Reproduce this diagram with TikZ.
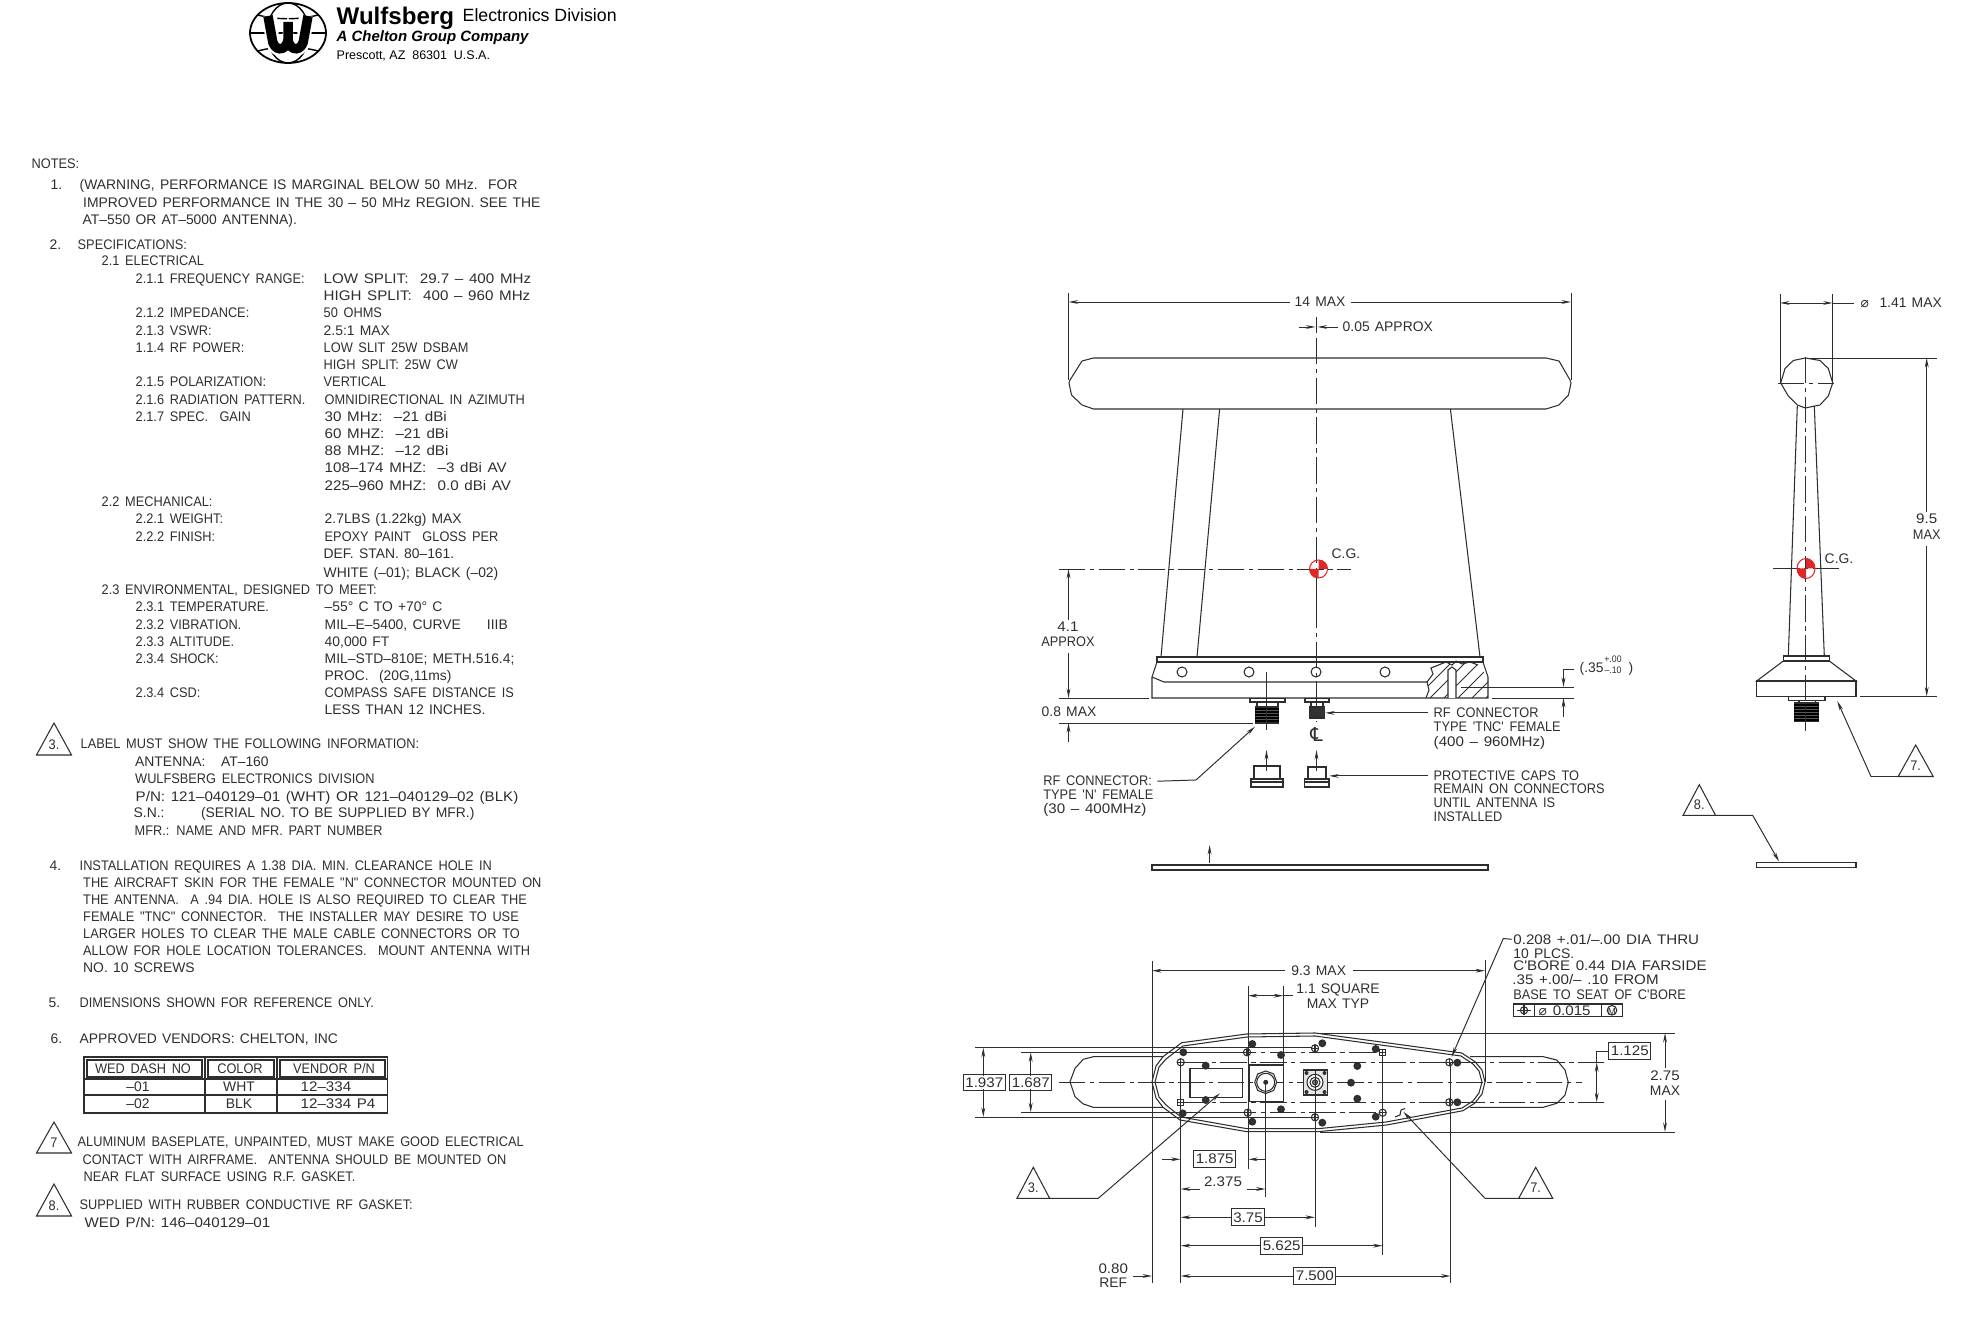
\documentclass[tikz,border=0pt]{standalone}
\usepackage{fontspec}
\usepackage{tikz}
\usetikzlibrary{arrows.meta}
\setmainfont{Liberation Sans}
\newfontfamily\cadfont[WordSpace=1.6,FakeStretch=0.92]{Liberation Sans}
\newfontfamily\cadfull[WordSpace=1.35]{Liberation Sans}
\newfontfamily\cadwide[WordSpace=1.35,FakeStretch=1.09]{Liberation Sans}
\newfontfamily\symfont{DejaVu Sans}
\definecolor{inkline}{gray}{0.18}
\definecolor{cgred}{RGB}{222,40,40}
\tikzset{
	note/.style={anchor=base west, inner sep=0pt, yshift=-1.42pt, text=inkline, font=\cadfont\fontsize{3.95}{4.9}\selectfont},
	fullnote/.style={note, font=\cadfull\fontsize{3.95}{4.9}\selectfont},
	widenote/.style={note, font=\cadwide\fontsize{3.95}{4.9}\selectfont},
	midnote/.style={note, anchor=base},
	midfull/.style={fullnote, anchor=base},
	midwide/.style={widenote, anchor=base},
	part/.style={draw=inkline, line width=0.3pt},
	dimline/.style={draw=inkline, line width=0.28pt, -{Stealth[length=0.95mm,width=0.38mm]}},
	bothdim/.style={draw=inkline, line width=0.28pt, {Stealth[length=0.95mm,width=0.38mm]}-{Stealth[length=0.95mm,width=0.38mm]}},
	extline/.style={draw=inkline, line width=0.28pt},
	cen/.style={draw=inkline, line width=0.25pt, dash pattern=on 7.5pt off 1.3pt on 1.2pt off 1.3pt},
	valbox/.style={widenote, anchor=center, yshift=1.42pt, draw=inkline, line width=0.3pt, inner xsep=0.6pt, inner ysep=1pt}
}
\newcommand{\notetri}[6]{
	\draw[part] ({#2-#4},{#3+#5}) coordinate (#1l) -- (#2,#3) -- ({#2+#4},{#3+#5}) coordinate (#1r) -- cycle;
	\node[midnote] (#1) at ({#2},{#3+0.66*#5}) {#6};
}
\newcommand{\cgmark}[4]{
	\draw[cgred, line width=0.3pt] (#1,#2) ellipse [x radius=#3, y radius=#4];
	\fill[cgred] (#1,#2) -- ({#1+#3},#2) arc [start angle=0, end angle=-90, x radius=#3, y radius=#4] -- cycle;
	\fill[cgred] (#1,#2) -- ({#1-#3},#2) arc [start angle=180, end angle=90, x radius=#3, y radius=#4] -- cycle;
}
\begin{document}
\begin{tikzpicture}[x=0.01cm, y=-0.01cm]
	\useasboundingbox (0,0) rectangle (1975,1319);

	% logo
	\draw[line width=0.5pt] (288,33) ellipse [x radius=38, y radius=30];
	\draw[line width=0.4pt] (288,33) ellipse [x radius=21, y radius=30];
	\draw[line width=0.4pt] (250,33) -- (326,33);
	\draw[line width=0.4pt] (258,15) .. controls (275,20) and (300,20) .. (318,15);
	\draw[line width=0.4pt] (258,51) .. controls (275,46) and (300,46) .. (318,51);
	\draw[white, line width=4pt] (270,16) -- (272,38) .. controls (273,52) and (286,52) .. (288,40) .. controls (290,52) and (303,52) .. (304,38) -- (306,16);
	\draw[line width=2.7pt] (268,16) -- (272,38) .. controls (273,52) and (286,52) .. (288,40) -- (288,22);
	\draw[line width=2.7pt] (308,16) -- (304,38) .. controls (303,52) and (290,52) .. (288,40);
	\node[anchor=base west, inner sep=0pt, font=\bfseries\fontsize{6.85}{8}\selectfont] (brand) at (336,24.5) {Wulfsberg};
	\node[anchor=base west, inner sep=0pt, font=\fontsize{5.05}{6}\selectfont] (division) at (462,22) {Electronics Division};
	\node[anchor=base west, inner sep=0pt, font=\bfseries\itshape\fontsize{4.25}{5}\selectfont] (group) at (336,42) {A Chelton Group Company};
	\node[anchor=base west, inner sep=0pt, font=\fontsize{3.55}{5}\selectfont] (town) at (336,60) {Prescott, AZ\ \ 86301\ \ U.S.A.};

	% notes
	\node[note] (nhead) at (31,164) {NOTES:};
	\node[fullnote] (n1) at (50,185) {1.};
	\node[fullnote] (n1a) at (79,185) {(WARNING, PERFORMANCE IS MARGINAL BELOW 50 MHz.\ \ FOR};
	\node[fullnote] (n1b) at (82.5,203) {IMPROVED PERFORMANCE IN THE 30 – 50 MHz REGION. SEE THE};
	\node[fullnote] (n1c) at (82,220) {AT–550 OR AT–5000 ANTENNA).};
	\node[fullnote] (n2) at (49,245) {2.};
	\node[note] (n2a) at (77,245) {SPECIFICATIONS:};
	\node[note] (s21) at (101,261) {2.1 ELECTRICAL};
	\node[note] (s211) at (135,279) {2.1.1 FREQUENCY RANGE:};
	\node[widenote] (v211a) at (323,279) {LOW SPLIT:\ \ 29.7 – 400 MHz};
	\node[widenote] (v211b) at (323,296) {HIGH SPLIT:\ \ 400 – 960 MHz};
	\node[note] (s212) at (135,313) {2.1.2 IMPEDANCE:};
	\node[note] (v212) at (323,313) {50 OHMS};
	\node[note] (s213) at (135,330.5) {2.1.3 VSWR:};
	\node[fullnote] (v213) at (323,330.5) {2.5:1 MAX};
	\node[note] (s114) at (135,348) {1.1.4 RF POWER:};
	\node[note] (v114a) at (323,348) {LOW SLIT 25W DSBAM};
	\node[note] (v114b) at (323,365) {HIGH SPLIT: 25W CW};
	\node[note] (s215) at (135,382) {2.1.5 POLARIZATION:};
	\node[note] (v215) at (323,382) {VERTICAL};
	\node[note] (s216) at (135,399.5) {2.1.6 RADIATION PATTERN.};
	\node[note] (v216) at (324,399.5) {OMNIDIRECTIONAL IN AZIMUTH};
	\node[note] (s217) at (135,416.5) {2.1.7 SPEC.\ \ GAIN};
	\node[widenote] (v217a) at (324,416.5) {30 MHz:\ \ –21 dBi};
	\node[widenote] (v217b) at (324,434) {60 MHZ:\ \ –21 dBi};
	\node[widenote] (v217c) at (324,451) {88 MHZ:\ \ –12 dBi};
	\node[widenote] (v217d) at (324,468) {108–174 MHZ:\ \ –3 dBi AV};
	\node[widenote] (v217e) at (324,485.5) {225–960 MHZ:\ \ 0.0 dBi AV};
	\node[note] (s22) at (101,502) {2.2 MECHANICAL:};
	\node[note] (s221) at (135,519) {2.2.1 WEIGHT:};
	\node[fullnote] (v221) at (324,519) {2.7LBS (1.22kg) MAX};
	\node[note] (s222) at (135,537) {2.2.2 FINISH:};
	\node[note] (v222a) at (324,537) {EPOXY PAINT\ \ GLOSS PER};
	\node[fullnote] (v222b) at (323,554) {DEF. STAN. 80–161.};
	\node[fullnote] (v222c) at (323,573) {WHITE (–01); BLACK (–02)};
	\node[note] (s23) at (101,590) {2.3 ENVIRONMENTAL, DESIGNED TO MEET:};
	\node[note] (s231) at (135,607) {2.3.1 TEMPERATURE.};
	\node[fullnote] (v231) at (324,607) {–55° C TO +70° C};
	\node[note] (s232) at (135,625) {2.3.2 VIBRATION.};
	\node[fullnote] (v232) at (324,625) {MIL–E–5400, CURVE\ \ \ \ \ IIIB};
	\node[note] (s233) at (135,642) {2.3.3 ALTITUDE.};
	\node[fullnote] (v233) at (324,642) {40,000 FT};
	\node[note] (s234) at (135,659) {2.3.4 SHOCK:};
	\node[fullnote] (v234a) at (324,659) {MIL–STD–810E; METH.516.4;};
	\node[fullnote] (v234b) at (324,676) {PROC.\ \ (20G,11ms)};
	\node[note] (s235) at (135,693) {2.3.4 CSD:};
	\node[note] (v235a) at (324,693) {COMPASS SAFE DISTANCE IS};
	\node[fullnote] (v235b) at (324,710) {LESS THAN 12 INCHES.};

	\notetri{tria}{54}{723}{17.5}{32}{3.}
	\node[note] (n3a) at (80,744) {LABEL MUST SHOW THE FOLLOWING INFORMATION:};
	\node[fullnote] (n3b) at (134.5,762) {ANTENNA:\ \ \ AT–160};
	\node[note] (n3c) at (134.5,779) {WULFSBERG ELECTRONICS DIVISION};
	\node[widenote] (n3d) at (135,797) {P/N: 121–040129–01 (WHT) OR 121–040129–02 (BLK)};
	\node[fullnote] (n3e) at (133,813) {S.N.:\ \ \ \ \ \ \ (SERIAL NO. TO BE SUPPLIED BY MFR.)};
	\node[note] (n3f) at (134,831) {MFR.: NAME AND MFR. PART NUMBER};

	\node[fullnote] (n4) at (49,866) {4.};
	\node[note] (n4a) at (79,866) {INSTALLATION REQUIRES A 1.38 DIA. MIN. CLEARANCE HOLE IN};
	\node[note] (n4b) at (82.5,883) {THE AIRCRAFT SKIN FOR THE FEMALE "N" CONNECTOR MOUNTED ON};
	\node[note] (n4c) at (82.5,900) {THE ANTENNA.\ \ A .94 DIA. HOLE IS ALSO REQUIRED TO CLEAR THE};
	\node[note] (n4d) at (82.5,917) {FEMALE "TNC" CONNECTOR.\ \ THE INSTALLER MAY DESIRE TO USE};
	\node[note] (n4e) at (82.5,934) {LARGER HOLES TO CLEAR THE MALE CABLE CONNECTORS OR TO};
	\node[note] (n4f) at (82.5,951) {ALLOW FOR HOLE LOCATION TOLERANCES.\ \ MOUNT ANTENNA WITH};
	\node[fullnote] (n4g) at (82.5,968) {NO. 10 SCREWS};
	\node[fullnote] (n5) at (48,1003) {5.};
	\node[note] (n5a) at (79,1003) {DIMENSIONS SHOWN FOR REFERENCE ONLY.};
	\node[fullnote] (n6) at (50,1039) {6.};
	\node[fullnote] (n6a) at (79,1039) {APPROVED VENDORS: CHELTON, INC};

	% vendor table
	\draw[part] (84,1057) rectangle (387.5,1113);
	\draw[part] (84,1079) -- (387.5,1079);
	\draw[part] (84,1095) -- (387.5,1095);
	\draw[part] (205,1057) -- (205,1113);
	\draw[part] (277,1057) -- (277,1113);
	\draw[part] (87,1060) rectangle (202,1077);
	\draw[part] (208,1060) rectangle (274,1077);
	\draw[part] (280,1060) rectangle (385,1077);
	\node[midnote] (cdash) at (143,1069) {WED DASH NO};
	\node[midnote] (ccolor) at (240,1069) {COLOR};
	\node[midnote] (cvendor) at (334,1069) {VENDOR P/N};
	\node[midfull] (r1dash) at (138,1087) {–01};
	\node[midfull] (r1color) at (239,1087) {WHT};
	\node[widenote] (r1vendor) at (300,1087) {12–334};
	\node[midfull] (r2dash) at (138,1104) {–02};
	\node[midfull] (r2color) at (239,1104) {BLK};
	\node[widenote] (r2vendor) at (300,1104) {12–334 P4};

	\notetri{trib}{54}{1122}{17.5}{31}{7}
	\node[note] (n7a) at (77,1142) {ALUMINUM BASEPLATE, UNPAINTED, MUST MAKE GOOD ELECTRICAL};
	\node[note] (n7b) at (82,1160) {CONTACT WITH AIRFRAME.\ \ ANTENNA SHOULD BE MOUNTED ON};
	\node[note] (n7c) at (83,1177) {NEAR FLAT SURFACE USING R.F. GASKET.};
	\notetri{tric}{54}{1184}{17.5}{32}{8.}
	\node[note] (n8a) at (79,1205) {SUPPLIED WITH RUBBER CONDUCTIVE RF GASKET:};
	\node[widenote] (n8b) at (84,1223) {WED P/N: 146–040129–01};

	% front view
	\draw[part] (1093.5,358) -- (1546,358) -- (1559,361) -- (1570,380) -- (1571,383) -- (1568.5,395) -- (1559,405) -- (1546,409) -- (1093.5,409) -- (1082,405) -- (1071.5,395) -- (1069,383) -- (1070,380) -- (1082,361) -- cycle;
	\draw[part] (1183,409) -- (1161,657);
	\draw[part] (1219.6,409) -- (1197,657);
	\draw[part] (1450.4,409) -- (1480,657);
	\draw[part] (1157,657) rectangle (1483,662);
	\draw[part] (1157,662) -- (1152,677) -- (1152,698) -- (1488,698) -- (1488,677) -- (1483,662);
	\draw[part] (1152,677) -- (1164,682) -- (1428,682);
	\foreach \hx in {1182,1249,1316,1385} {
		\draw[part] (\hx,672) ellipse [x radius=5, y radius=5];
	}
	% broken out section
	\begin{scope}
		\clip (1446,662) -- (1452,665) -- (1456,661) -- (1462,664) -- (1470,662) -- (1478,665) -- (1488,677) -- (1488,698) -- (1426,698) -- (1429,690) -- (1427,682) -- (1433,674) -- (1431,668) -- cycle;
		\foreach \hh in {0,14,...,90} {
			\draw[draw=inkline, line width=0.22pt] ({1416+\hh},698) -- ({1466+\hh},648);
		}
	\end{scope}
	\draw[part] (1446,662) -- (1452,665) -- (1456,661) -- (1462,664) -- (1470,662) -- (1478,665);
	\draw[part] (1426,698) -- (1429,690) -- (1427,682) -- (1433,674) -- (1431,668) -- (1446,662);
	\draw[part, fill=white] (1448,698) -- (1448,670) -- (1452,667) -- (1456,670) -- (1456,698);

	% connectors and caps
	\draw[part] (1250,698.7) rectangle (1285,702);
	\draw[part] (1257,702) -- (1257,707);
	\draw[part] (1278,702) -- (1278,707);
	\draw[part, fill=gray!70!black] (1255.5,707) rectangle (1278.5,723);
	\foreach \ty in {709,712,...,722} {
		\draw[black, line width=0.4pt] (1255,\ty) -- (1279,\ty);
	}
	\draw[part] (1305,698.7) rectangle (1329,702);
	\draw[part] (1311,702) -- (1311,707);
	\draw[part] (1323,702) -- (1323,707);
	\draw[part, fill=black!80] (1310,707) rectangle (1324.6,718);
	\draw[extline] (1266.5,672) -- (1266.5,730);
	\draw[part] (1254,766) rectangle (1280,779);
	\draw[part] (1251,779) rectangle (1283,787);
	\draw[part] (1251,782) -- (1283,782);
	\draw[part] (1308,767) rectangle (1326,779);
	\draw[part] (1304.6,779) rectangle (1329,787);
	\draw[part] (1304.6,782) -- (1329,782);
	\draw[dimline] (1266.5,771) -- (1266.5,750);
	\draw[dimline] (1316.5,771) -- (1316.5,750);
	\node[midnote, font=\symfont\fontsize{5.5}{6}\selectfont] (clmark) at (1316.5,737) {℄};
	\draw[part] (1152,865) rectangle (1488,870);
	\draw[dimline] (1209.6,863) -- (1209.6,845);

	% front view dimensions and center lines
	\draw[extline] (1068.5,293) -- (1068.5,380);
	\draw[extline] (1571,293) -- (1571,380);
	\node[midfull] (dfourteen) at (1320,302) {14 MAX};
	\draw[dimline] (1290,302) -- (1068.5,302);
	\draw[dimline] (1351,302) -- (1571,302);
	\draw[extline] (1316.5,317) -- (1316.5,333);
	\draw[dimline] (1298.5,327) -- (1315.5,327);
	\draw[dimline] (1337.5,327) -- (1317.5,327);
	\node[fullnote] (dgap) at (1342,327) {0.05 APPROX};
	\draw[cen, line width=0.4pt] (1316.5,338) -- (1316.5,602);
	\draw[cen] (1316.5,602) -- (1316.5,722);
	\draw[cen] (1059,569) -- (1351,569);
	\cgmark{1318.5}{569}{9}{9}
	\node[fullnote] (dcga) at (1331,554) {C.G.};
	\draw[extline] (1059,698) -- (1148.5,698);
	\node[midwide] (dfoura) at (1068,627) {4.1};
	\node[midnote] (dfourb) at (1068,642) {APPROX};
	\draw[dimline] (1068.5,620) -- (1068.5,569);
	\draw[dimline] (1068.5,653) -- (1068.5,698);
	\node[fullnote] (deight) at (1041,712) {0.8 MAX};
	\draw[extline] (1059,723) -- (1253,723);
	\draw[dimline] (1068.5,742) -- (1068.5,723);
	\draw[extline] (1461,687) -- (1574,687);
	\draw[extline] (1491.5,698) -- (1574,698);
	\coordinate (dthreetop) at (1574,669);
	\draw[dimline] (dthreetop) -- (1563.5,669) -- (1563.5,687);
	\draw[dimline] (1563.5,717) -- (1563.5,698);
	\node[fullnote] (dthree) at (1579,668) {(.35};
	\node[midnote, font=\cadfont\fontsize{2.7}{3.2}\selectfont, align=center] (dthreetol) at (1613,668.5) {+.00\\–.10};
	\node[fullnote] (dthreeend) at (1628,668) {)};

	% connector labels
	\node[note] (rfa) at (1433,712.7) {RF CONNECTOR};
	\node[note] (rfb) at (1433,727) {TYPE 'TNC' FEMALE};
	\node[widenote] (rfc) at (1433,741.7) {(400 – 960MHz)};
	\draw[dimline] ([xshift=-1.4pt]rfa.west) -- ++(-103,0);
	\node[note] (capa) at (1433,775.7) {PROTECTIVE CAPS TO};
	\node[note] (capb) at (1433,789) {REMAIN ON CONNECTORS};
	\node[note] (capc) at (1433,802.7) {UNTIL ANTENNA IS};
	\node[note] (capd) at (1433,816.7) {INSTALLED};
	\draw[dimline] ([xshift=-1.4pt]capa.west) -- ++(-99,0);
	\node[note] (rna) at (1042.7,781) {RF CONNECTOR:};
	\node[note] (rnb) at (1042.7,795) {TYPE 'N' FEMALE};
	\node[widenote] (rnc) at (1042.7,809) {(30 – 400MHz)};
	\draw[dimline] ([xshift=1.4pt]rna.east) -- (1196,780) -- (1255,726.7);

	% side view
	\draw[part] (1805.3,358) -- (1820,360.5) -- (1828.3,368.5) -- (1832.7,383) -- (1828.3,396) -- (1820,405) -- (1805.3,408) -- (1797.3,405) -- (1788.3,396) -- (1780.7,383) -- (1785,368.5) -- (1793.3,360.5) -- cycle;
	\draw[part] (1797.3,406) -- (1788.3,656);
	\draw[part] (1814.3,406) -- (1824.3,656);
	\draw[part] (1783.3,656) rectangle (1829.3,661);
	\draw[part] (1783.3,661) -- (1756.7,681) -- (1856,681) -- (1829.3,661);
	\draw[part] (1756.7,681) rectangle (1856,696.5);
	\draw[part] (1788.3,696.5) rectangle (1825,700.5);
	\draw[part] (1799,700.5) -- (1799,703);
	\draw[part] (1815.7,700.5) -- (1815.7,703);
	\draw[part, fill=gray!70!black] (1794.3,703) rectangle (1818.3,721);
	\foreach \ty in {705,708,...,720} {
		\draw[black, line width=0.4pt] (1794,\ty) -- (1818.6,\ty);
	}
	\draw[cen] (1805.3,357) -- (1805.3,731);
	\draw[cen] (1778,383) -- (1834,383);
	\draw[cen] (1773.3,568) -- (1839,568);
	\cgmark{1806}{568.5}{9}{10}
	\node[fullnote] (scg) at (1824,559) {C.G.};
	\draw[extline] (1780,294) -- (1780,383);
	\draw[extline] (1832.7,294) -- (1832.7,383);
	\draw[bothdim] (1780,303) -- (1832.7,303);
	\draw[extline] (1832.7,303) -- (1854,303);
	\node[fullnote] (sdia) at (1860,303) {{\symfont ⌀}\ \ 1.41 MAX};
	\draw[extline] (1810,358) -- (1936.7,358);
	\draw[extline] (1860,696.5) -- (1936.7,696.5);
	\node[midwide] (snine) at (1926.7,519) {9.5};
	\node[midnote] (smax) at (1926.7,535) {MAX};
	\draw[dimline] (1926.7,512) -- (1926.7,358);
	\draw[dimline] (1926.7,546) -- (1926.7,696.5);
	\notetri{trid}{1915.7}{745}{17.5}{31.5}{7.}
	\draw[dimline] (tridl) -- (1871,776.5) -- (1837.3,701);
	\notetri{trie}{1699.3}{784.7}{16.3}{30.7}{8.}
	\draw[dimline] (trier) -- (1752.7,815.4) -- (1779,861.5);
	\draw[part] (1756.3,862.7) rectangle (1856,867.4);

	% plan view outline
	\draw[part] (1152,1082) -- (1156,1066) -- (1163,1056.7) -- (1181.7,1042.7) -- (1246.7,1034) -- (1315,1033) -- (1461.7,1053) -- (1475,1061.7) -- (1482,1070) -- (1485,1082) -- (1482,1094) -- (1475,1103) -- (1463,1110.7) -- (1386.7,1125) -- (1318,1131.7) -- (1246.7,1131.7) -- (1180,1120) -- (1163,1107.3) -- (1156,1098) -- cycle;
	\draw[part] (1155,1082) -- (1159,1067) -- (1166,1059) -- (1183,1046) -- (1247,1037) -- (1315,1036) -- (1461,1056) -- (1473,1064) -- (1479,1071) -- (1482,1082) -- (1479,1093) -- (1473,1101) -- (1462,1108) -- (1386,1122) -- (1318,1128.7) -- (1247,1128.7) -- (1181,1117) -- (1166,1105) -- (1159,1097) -- cycle;
	% silhouette of the top bar
	\draw[part] (1163,1056.7) -- (1093.3,1056.7) -- (1083.3,1059.3) -- (1075,1068.3) -- (1070,1081.7) -- (1075,1096.7) -- (1083.3,1104) -- (1093.3,1107.3) -- (1163,1107.3);
	\draw[part] (1470,1056.7) -- (1543.3,1056.7) -- (1556.7,1060) -- (1565,1070) -- (1568.3,1082.3) -- (1565,1095) -- (1556.7,1103.3) -- (1543.3,1107.3) -- (1470,1107.3);
	\draw[cen] (1059,1082) -- (1581.7,1082);
	\draw[cen] (1180.7,1062.3) -- (1606.7,1062.3);
	\draw[cen] (1180.7,1102.3) -- (1606.7,1102.3);
	\draw[extline] (975,1047.7) -- (1315,1047.7);
	\draw[extline] (975,1117) -- (1315,1117);
	\draw[extline] (1021,1052.3) -- (1230,1052.3);
	\draw[cen] (1230,1052.3) -- (1381,1052.3);
	\draw[extline] (1021,1112.3) -- (1230,1112.3);
	\draw[cen] (1230,1112.3) -- (1381,1112.3);
	\draw[extline] (1320,1033) -- (1675,1033);
	\draw[extline] (1320,1132) -- (1675,1132);

	% inner parts
	\draw[part] (1190,1068.3) rectangle (1242.7,1097.7);
	\draw[part] (1249,1065) rectangle (1283.3,1101.7);
	\draw[part, fill=white] (1265.7,1071) -- (1273.7,1074) -- (1276.7,1082.3) -- (1273.7,1090.5) -- (1265.7,1093.5) -- (1257.7,1090.5) -- (1254.7,1082.3) -- (1257.7,1074) -- cycle;
	\draw[part] (1265.7,1082.3) circle [radius=9];
	\fill[inkline] (1265.7,1082.3) circle [radius=2.5];
	\draw[part, fill=gray!20] (1303.3,1070) rectangle (1327.7,1095);
	\draw[part, fill=white] (1315,1082.3) circle [radius=8];
	\draw[part] (1315,1082.3) circle [radius=5];
	\draw[part, fill=gray] (1315,1082.3) circle [radius=2.5];
	\foreach \cx/\cy in {1306.5/1073,1324.5/1073,1306.5/1092,1324.5/1092} {
		\fill[inkline] (\cx,\cy) circle [radius=2];
	}
	% screws
	\foreach \sx/\sy in {1183.3/1052.3,1252.3/1044,1281/1055,1322.3/1043.3,1375.7/1049,1457.3/1062.7,1457.3/1102.3,1375.7/1116.7,1322.3/1122.7,1281/1109.3,1252.3/1121.7,1182.7/1113.3,1357.3/1066,1351/1082.7,1357.3/1098.7,1205.7/1065.7,1205.7/1100} {
		\draw[draw=inkline, line width=0.5pt, fill=gray!40!black] (\sx,\sy) circle [radius=3];
	}
	% holes
	\foreach \hx/\hy in {1247/1052.3,1315/1048.3,1180.7/1062.3,1449.3/1062.3,1247.7/1112.7,1382.7/1112.7,1315/1117.3,1449.3/1102.3} {
		\draw[part, fill=white] (\hx,\hy) circle [radius=3.6];
		\draw[part] (\hx-3.6,\hy) -- (\hx+3.6,\hy) (\hx,\hy-3.6) -- (\hx,\hy+3.6);
	}
	\foreach \hx/\hy in {1382.7/1052.3,1180.7/1102.3} {
		\draw[part, fill=white] (\hx-3.2,\hy-3.2) rectangle (\hx+3.2,\hy+3.2);
		\draw[part] (\hx-3.2,\hy) -- (\hx+3.2,\hy) (\hx,\hy-3.2) -- (\hx,\hy+3.2);
	}
	\draw[part] (1395,1117) -- (1400,1115) -- (1401,1110) -- (1405,1108.5);

	% plan view dimensions
	\draw[extline] (1152,961) -- (1152,1283);
	\draw[extline] (1485,960) -- (1485,1082);
	\node[midfull] (pnine) at (1318.7,970.7) {9.3 MAX};
	\draw[dimline] (1285,970.7) -- (1152,970.7);
	\draw[dimline] (1352.6,970.7) -- (1485,970.7);
	\draw[extline] (1248,986) -- (1248,1168.7);
	\draw[extline] (1283.3,986) -- (1283.3,1065);
	\draw[bothdim] (1248,995.7) -- (1283.3,995.7);
	\draw[extline] (1283.3,995.7) -- (1293,995.7);
	\node[midfull] (psqa) at (1338,989) {1.1 SQUARE};
	\node[midfull] (psqb) at (1338,1004) {MAX TYP};
	\draw[extline] (1180.7,1062.3) -- (1180.7,1283);
	\draw[extline] (1265.7,1082) -- (1265.7,1197);
	\draw[extline] (1315,1070) -- (1315,1226.7);
	\draw[extline] (1382.7,1052.3) -- (1382.7,1255);
	\draw[extline] (1450.7,1062.3) -- (1450.7,1283);
	\node[valbox] (pa) at (984.3,1082.5) {1.937};
	\node[valbox] (pb) at (1030.8,1082.5) {1.687};
	\draw[dimline] (983.3,1076) -- (983.3,1047.7);
	\draw[dimline] (983.3,1089) -- (983.3,1117);
	\draw[dimline] (1030.7,1076) -- (1030.7,1052.3);
	\draw[dimline] (1030.7,1089) -- (1030.7,1112.3);
	\node[valbox] (pc) at (1214.7,1158.7) {1.875};
	\draw[dimline] (1162.3,1159.3) -- (1180.7,1159.3);
	\draw[dimline] (1265.7,1159.3) -- (1248.3,1159.3);
	\node[midwide] (pd) at (1223,1181.7) {2.375};
	\draw[dimline] (1200,1189) -- (1180.7,1189);
	\draw[dimline] (1246.7,1189) -- (1265.7,1189);
	\node[valbox] (pe) at (1248,1217.3) {3.75};
	\draw[dimline] (pe.west) -- (1180.7,1217.3);
	\draw[dimline] (pe.east) -- (1315,1217.3);
	\node[valbox] (pf) at (1281.7,1245.7) {5.625};
	\draw[dimline] (pf.west) -- (1180.7,1245.7);
	\draw[dimline] (pf.east) -- (1382.7,1245.7);
	\node[valbox] (pg) at (1314.8,1276) {7.500};
	\draw[dimline] (pg.west) -- (1180.7,1276);
	\draw[dimline] (pg.east) -- (1450.7,1276);
	\node[midwide] (pref) at (1113.3,1268.3) {0.80};
	\node[midfull] (prefb) at (1113.3,1282.7) {REF};
	\draw[dimline] (1133.3,1276) -- (1152,1276);
	\node[midwide] (ptwo) at (1665,1075.7) {2.75};
	\node[midfull] (ptwob) at (1665,1090.7) {MAX};
	\draw[dimline] (1665,1068) -- (1665,1033);
	\draw[dimline] (1665,1100) -- (1665,1132);
	\node[valbox] (ph) at (1629.8,1051) {1.125};
	\draw[extline] (ph.west) -- (1596.7,1051);
	\draw[bothdim] (1596.7,1062.3) -- (1596.7,1102.3);
	\draw[extline] (1596.7,1051) -- (1596.7,1062.3);

	% hole call out
	\node[widenote] (holea) at (1512.7,939.3) {0.208 +.01/–.00 DIA THRU};
	\node[fullnote] (holeb) at (1512.7,953.3) {10 PLCS.};
	\node[widenote] (holec) at (1512.7,966) {C'BORE 0.44 DIA FARSIDE};
	\node[widenote] (holed) at (1511.7,980) {.35 +.00/– .10 FROM};
	\node[note] (holee) at (1512.7,995) {BASE TO SEAT OF C'BORE};
	\draw[part] (1513.3,1004) rectangle (1622.7,1016.7);
	\draw[part] (1534.3,1004) -- (1534.3,1016.7);
	\draw[part] (1601.7,1004) -- (1601.7,1016.7);
	\draw[part] (1524,1010.3) circle [radius=3.6];
	\draw[part] (1517,1010.3) -- (1531,1010.3) (1524,1005.5) -- (1524,1015);
	\node[widenote] (holef) at (1538,1010.3) {{\symfont ⌀}\ 0.015};
	\draw[part] (1612,1010.3) circle [radius=4.8];
	\node[midnote, font=\cadfont\fontsize{3}{3.5}\selectfont] (holeg) at (1612,1010.3) {M};
	\draw[dimline] ([xshift=-0.3pt]holea.west) -- (1503.3,938.5) -- (1451.7,1056.7);

	% note flags on plan view
	\notetri{trif}{1033.3}{1167.3}{16.3}{31}{3.}
	\draw[dimline] (trifr) -- (1098.3,1198.3) -- (1220,1093.3);
	\notetri{trig}{1535.7}{1167.3}{17}{31}{7.}
	\draw[dimline] (trigl) -- (1485,1198.3) -- (1403.3,1111.7);
\end{tikzpicture}
\end{document}
